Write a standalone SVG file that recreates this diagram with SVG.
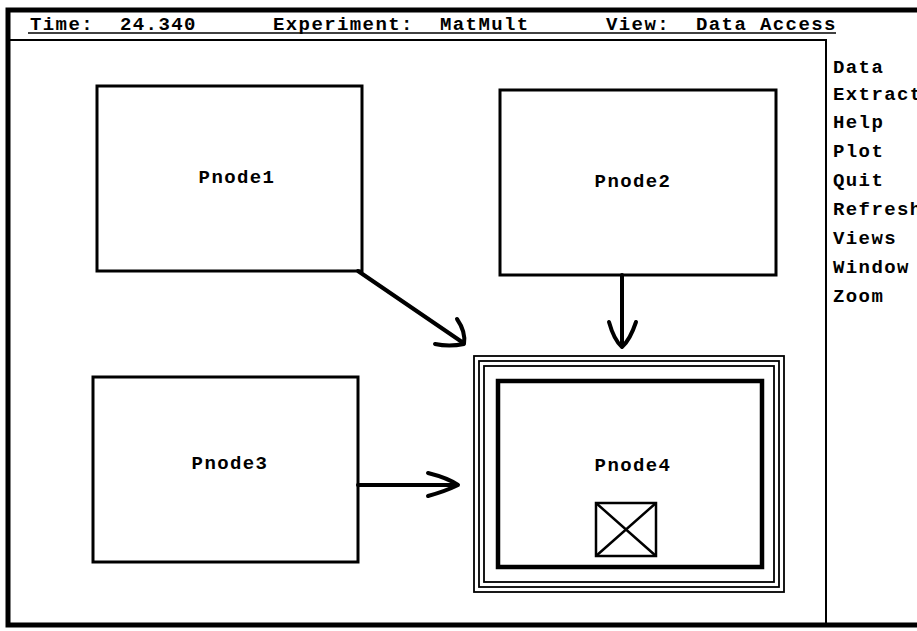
<svg xmlns="http://www.w3.org/2000/svg" width="917" height="631" viewBox="0 0 917 631">
  <style>
    text { font-family: "Liberation Mono", "DejaVu Sans Mono", monospace; font-size: 19px; font-weight: bold; letter-spacing: 1.4px; fill: #000; }
    .label { text-anchor: middle; }
    .frame { fill: none; stroke: #000; stroke-width: 5; }
    .rule { fill: none; stroke: #000; stroke-width: 1.6; }
    .pane { fill: none; stroke: #000; stroke-width: 2; }
    .box { fill: #fff; stroke: #000; stroke-width: 3; }
    .ring { fill: none; stroke: #000; stroke-width: 1.8; }
    .core { fill: none; stroke: #000; stroke-width: 4.5; }
    .glyph { fill: none; stroke: #000; stroke-width: 2.5; }
    .edge { fill: none; stroke: #000; stroke-width: 4; stroke-linecap: round; stroke-linejoin: round; }
  </style>

  <rect width="917" height="631" fill="#fff"/>

  <!-- window frame, status bar and menu pane -->
  <g id="window">
    <path class="frame" d="M917,10 H8 V625 H917"/>
    <line class="rule" x1="28" y1="33" x2="836" y2="33"/>
    <path class="pane" d="M8,40 H826 V627"/>
  </g>

  <g id="status">
    <text x="30" y="30">Time:</text>
    <text x="120" y="30">24.340</text>
    <text x="273" y="30">Experiment:</text>
    <text x="440" y="30">MatMult</text>
    <text x="606" y="30">View:</text>
    <text x="696" y="30">Data Access</text>
  </g>

  <g id="menu">
    <text x="833" y="73">Data</text>
    <text x="833" y="100">Extract</text>
    <text x="833" y="128">Help</text>
    <text x="833" y="157">Plot</text>
    <text x="833" y="186">Quit</text>
    <text x="833" y="215">Refresh</text>
    <text x="833" y="244">Views</text>
    <text x="833" y="273">Window</text>
    <text x="833" y="302">Zoom</text>
  </g>

  <!-- nodes -->
  <g id="pnode1">
    <rect class="box" x="97" y="86" width="265" height="185"/>
    <text class="label" x="237" y="183">Pnode1</text>
  </g>

  <g id="pnode2">
    <rect class="box" x="500" y="90" width="276" height="185"/>
    <text class="label" x="633" y="187">Pnode2</text>
  </g>

  <g id="pnode3">
    <rect class="box" x="93" y="377" width="265" height="185"/>
    <text class="label" x="230" y="469">Pnode3</text>
  </g>

  <g id="pnode4">
    <rect class="ring" x="474" y="356" width="310" height="236"/>
    <rect class="ring" x="479" y="361" width="300" height="226"/>
    <rect class="ring" x="484" y="366" width="290" height="216"/>
    <rect class="core" x="498" y="381" width="264" height="186"/>
    <text class="label" x="633" y="471">Pnode4</text>
    <rect class="glyph" x="596" y="503" width="60" height="53"/>
    <path class="glyph" d="M596,503 L656,556 M656,503 L596,556"/>
  </g>

  <!-- connectors -->
  <g id="connectors">
    <path class="edge" d="M358,271 L462,342"/>
    <path class="edge" d="M457,319 Q466,332 464,344 Q449,347 435,344"/>
    <path class="edge" d="M622,275 V345"/>
    <path class="edge" d="M609,322 Q614,340 622,347 Q630,340 636,322"/>
    <path class="edge" d="M358,485 H456"/>
    <path class="edge" d="M428,473 Q448,478 458,485 Q446,491 428,496"/>
  </g>
</svg>
